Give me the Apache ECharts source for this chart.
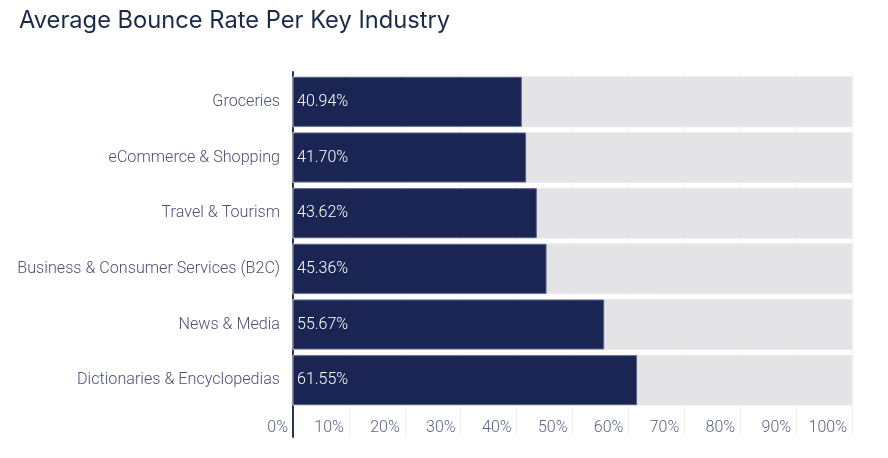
<!DOCTYPE html>
<html><head><meta charset="utf-8">
<script src="https://cdn.jsdelivr.net/npm/echarts@6/dist/echarts.min.js"></script>
<style>html,body{margin:0;padding:0;background:#fff}#c{width:888px;height:458px}</style>
</head><body><div id="c"></div>
<script>
const titleText = "Average Bounce Rate Per Key Industry";
const categories = ["Groceries","eCommerce & Shopping","Travel & Tourism","Business & Consumer Services (B2C)","News & Media","Dictionaries & Encyclopedias"];
const bounceRates = [40.94, 41.70, 43.62, 45.36, 55.67, 61.55];
const tickValues = [0,10,20,30,40,50,60,70,80,90,100];

const chart = echarts.init(document.getElementById('c'), null, {renderer:'canvas'});
chart.setOption({
  animation:false,
  backgroundColor:'#fff',
  title:{text:titleText,left:14,top:4,textStyle:{fontFamily:'Inter',fontSize:23.7,fontWeight:400,color:'#1c2a4a'}},
  grid:[
    {left:293,right:36,top:74,bottom:50},
    {left:293,right:36,top:72,bottom:21}
  ],
  xAxis:[
    {gridIndex:0,type:'value',min:0,max:100,show:false},
    {gridIndex:1,type:'value',min:tickValues[0],max:tickValues[tickValues.length-1],interval:10,
     axisLine:{show:false},axisTick:{show:false},
     splitLine:{show:true,lineStyle:{color:'#f1f1f1',width:1}},
     axisLabel:{inside:true,margin:1,align:'right',padding:[0,5,0,0],fontFamily:'Roboto',fontWeight:300,fontSize:16,color:'#5a6283',
       formatter:v=>v+'%'}}
  ],
  yAxis:[
    {gridIndex:0,type:'category',inverse:true,data:categories,
     axisLine:{show:false},axisTick:{show:false},
     axisLabel:{margin:13,fontFamily:'Roboto',fontWeight:300,fontSize:16.15,color:'#4b5273'}},
    {gridIndex:1,type:'value',min:0,max:1,
     axisLine:{show:true,lineStyle:{color:'#2b3459',width:2}},axisTick:{show:false},axisLabel:{show:false},splitLine:{show:false}}
  ],
  series:[{
    type:'bar',xAxisIndex:0,yAxisIndex:0,data:bounceRates,barWidth:50,
    showBackground:true,
    backgroundStyle:{color:'#e4e4e6',borderColor:'#ececee',borderWidth:1},
    itemStyle:{color:'#1b2553',borderColor:'#5d6586',borderWidth:1},
    label:{show:true,position:'insideLeft',distance:4,fontFamily:'Roboto',fontWeight:300,fontSize:16,color:'#ffffff',
      formatter:p=>p.value.toFixed(2)+'%'},
    z:3
  }]
});
</script></body></html>
